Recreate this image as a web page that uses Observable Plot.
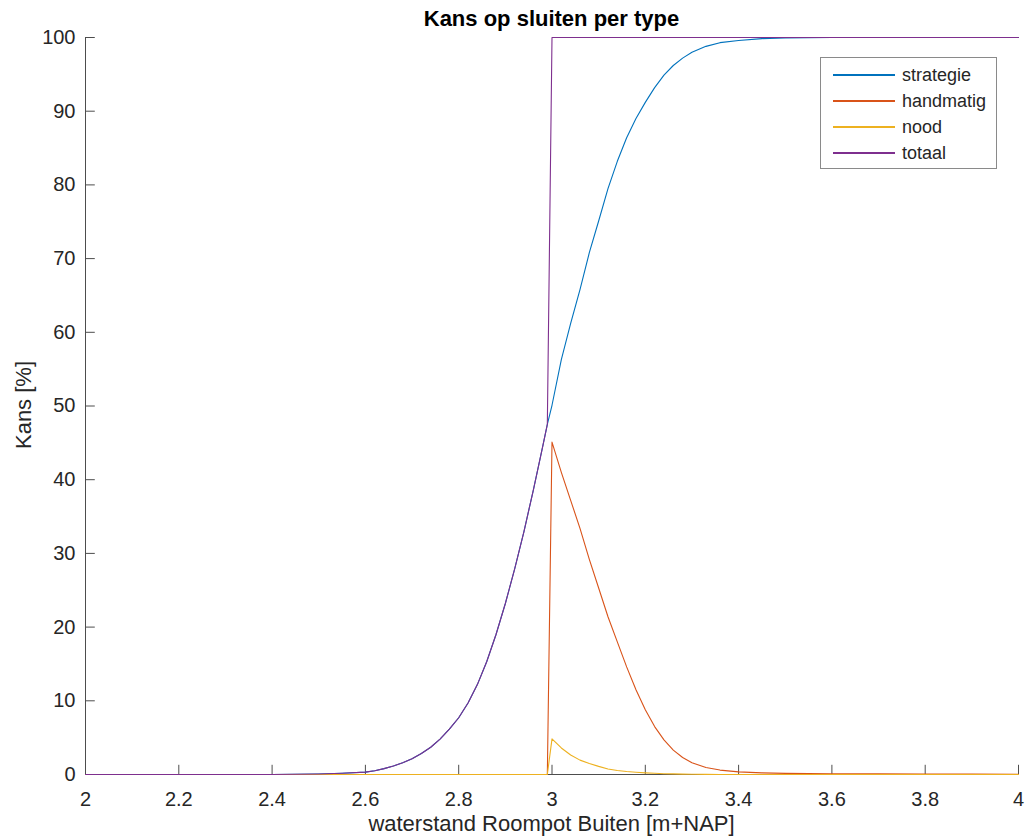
<!DOCTYPE html>
<html>
<head>
<meta charset="utf-8">
<script src="https://cdn.jsdelivr.net/npm/d3@7"></script>
<script src="https://cdn.jsdelivr.net/npm/@observablehq/plot@0.6"></script>
<style>
  body { margin: 0; background: #fff; font-family: "Liberation Sans", Arial, sans-serif; }
  #wrap { position: relative; width: 1025px; height: 840px; overflow: hidden; }
  .title { position: absolute; left: 85px; width: 933px; top: 8px; text-align: center;
           font-size: 22px; line-height: 22px; font-weight: bold; color: #000; }
  .xlabel { position: absolute; left: 85px; width: 933px; top: 813px; text-align: center;
            font-size: 22px; line-height: 22px; color: #262626; }
  .ylabel { position: absolute; width: 200px; left: -76px; top: 394px; text-align: center;
            font-size: 22px; line-height: 22px; color: #262626; transform: rotate(-90deg); }
  .legend { position: absolute; left: 820px; top: 57px; width: 177px; height: 112px;
            border: 1px solid #8a8a8a; background: #fff; box-sizing: border-box; }
  .legend .row { position: absolute; left: 12px; height: 26px; display: flex; align-items: center; }
  .legend .sw { width: 62px; height: 1.5px; margin-right: 7px; }
  .legend .lab { font-size: 18px; color: #262626; }
</style>
</head>
<body>
<div id="wrap"></div>
<script>
// ---- data ----
const waterstand = [2.0, 2.1, 2.2, 2.3, 2.4, 2.45, 2.5, 2.55, 2.6,
  2.62, 2.64, 2.66, 2.68, 2.70, 2.72, 2.74, 2.76, 2.78, 2.80, 2.82, 2.84, 2.86, 2.88, 2.90, 2.92, 2.94, 2.96, 2.98,
  2.99, 3.00,
  3.02, 3.04, 3.06, 3.08, 3.10, 3.12, 3.14, 3.16, 3.18, 3.20, 3.22, 3.24, 3.26, 3.28, 3.30,
  3.33, 3.36, 3.40, 3.45, 3.50, 3.60, 3.70, 3.80, 3.90, 4.00];

const strategie = [0, 0, 0, 0, 0.01, 0.03, 0.07, 0.16, 0.32,
  0.5, 0.8, 1.15, 1.6, 2.15, 2.85, 3.7, 4.8, 6.15, 7.7, 9.7, 12.2, 15.3, 19.0, 23.2, 27.9, 33.0, 38.6, 44.5,
  47.5, 50.1,
  56.3, 61.2, 65.8, 70.8, 75.1, 79.5, 83.2, 86.4, 89.0, 91.2, 93.2, 94.9, 96.2, 97.2, 98.0,
  98.8, 99.3, 99.6, 99.85, 99.95, 100, 100, 100, 100, 100];

const handmatig = [0, 0, 0, 0, 0, 0, 0, 0, 0,
  0, 0, 0, 0, 0, 0, 0, 0, 0, 0, 0, 0, 0, 0, 0, 0, 0, 0, 0,
  0, 45.1,
  41.0, 37.2, 33.4, 29.2, 25.3, 21.4, 18.0, 14.6, 11.5, 8.8, 6.5, 4.7, 3.3, 2.3, 1.6,
  0.95, 0.6, 0.35, 0.22, 0.15, 0.1, 0.08, 0.06, 0.05, 0.04];

const nood = [0, 0, 0, 0, 0, 0, 0, 0, 0,
  0, 0, 0, 0, 0, 0, 0, 0, 0, 0, 0, 0, 0, 0, 0, 0, 0, 0, 0,
  0, 4.84,
  3.6, 2.65, 1.95, 1.5, 1.1, 0.75, 0.55, 0.4, 0.3, 0.22, 0.16, 0.11, 0.08, 0.05, 0.04,
  0.02, 0.01, 0.01, 0, 0, 0, 0, 0, 0, 0];

const totaal = [0, 0, 0, 0, 0.01, 0.03, 0.07, 0.16, 0.32,
  0.5, 0.8, 1.15, 1.6, 2.15, 2.85, 3.7, 4.8, 6.15, 7.7, 9.7, 12.2, 15.3, 19.0, 23.2, 27.9, 33.0, 38.6, 44.5,
  47.5, 100,
  100, 100, 100, 100, 100, 100, 100, 100, 100, 100, 100, 100, 100, 100, 100,
  100, 100, 100, 100, 100, 100, 100, 100, 100, 100];

const seriesNames = ["strategie", "handmatig", "nood", "totaal"];
const seriesColors = ["#0072BD", "#D95319", "#EDB120", "#7E2F8E"];
const xTicks = [2, 2.2, 2.4, 2.6, 2.8, 3, 3.2, 3.4, 3.6, 3.8, 4];
const yTicks = [0, 10, 20, 30, 40, 50, 60, 70, 80, 90, 100];
const titleText = "Kans op sluiten per type";
const xLabelText = "waterstand Roompot Buiten [m+NAP]";
const yLabelText = "Kans [%]";

// ---- tidy table ----
const seriesValues = [strategie, handmatig, nood, totaal];
const table = [];
seriesNames.forEach((name, si) => {
  waterstand.forEach((x, i) => table.push({series: name, x, y: seriesValues[si][i]}));
});

const axisColor = "#4d4d4d";
const textColor = "#262626";

const chart = Plot.plot({
  width: 1025,
  height: 840,
  marginLeft: 85,
  marginRight: 7,
  marginTop: 37,
  marginBottom: 66,
  style: {fontFamily: '"Liberation Sans", Arial, sans-serif', background: "#fff"},
  x: {domain: [2, 4]},
  y: {domain: [0, 100]},
  color: {domain: seriesNames, range: seriesColors},
  marks: [
    Plot.ruleY([0], {stroke: axisColor, strokeWidth: 1}),
    Plot.ruleX([2], {stroke: axisColor, strokeWidth: 1}),
    Plot.ruleX(xTicks, {x: d => d, y1: 0, y2: 1.25, stroke: axisColor, strokeWidth: 1}),
    Plot.ruleY(yTicks, {y: d => d, x1: 2, x2: 2.021, stroke: axisColor, strokeWidth: 1}),
    Plot.axisX({ticks: xTicks, tickSize: 0, tickPadding: 17, fontSize: 20, fill: textColor,
                label: null, tickFormat: d => String(Math.round(d * 10) / 10)}),
    Plot.axisY({ticks: yTicks, tickSize: 0, tickPadding: 10, fontSize: 20, fill: textColor,
                label: null, tickFormat: d => String(d)}),
    Plot.line(table, {x: "x", y: "y", z: "series", stroke: "series", strokeWidth: 1.1, curve: "linear"})
  ]
});

const wrap = document.getElementById("wrap");
wrap.appendChild(chart);

const t = document.createElement("div"); t.className = "title"; t.textContent = titleText; wrap.appendChild(t);
const xl = document.createElement("div"); xl.className = "xlabel"; xl.textContent = xLabelText; wrap.appendChild(xl);
const yl = document.createElement("div"); yl.className = "ylabel"; yl.textContent = yLabelText; wrap.appendChild(yl);

const lg = document.createElement("div"); lg.className = "legend";
seriesNames.forEach((name, i) => {
  const row = document.createElement("div"); row.className = "row";
  row.style.top = (4 + i * 26) + "px";
  const sw = document.createElement("div"); sw.className = "sw"; sw.style.background = seriesColors[i];
  const lab = document.createElement("span"); lab.className = "lab"; lab.textContent = name;
  row.appendChild(sw); row.appendChild(lab); lg.appendChild(row);
});
wrap.appendChild(lg);
</script>
</body>
</html>
